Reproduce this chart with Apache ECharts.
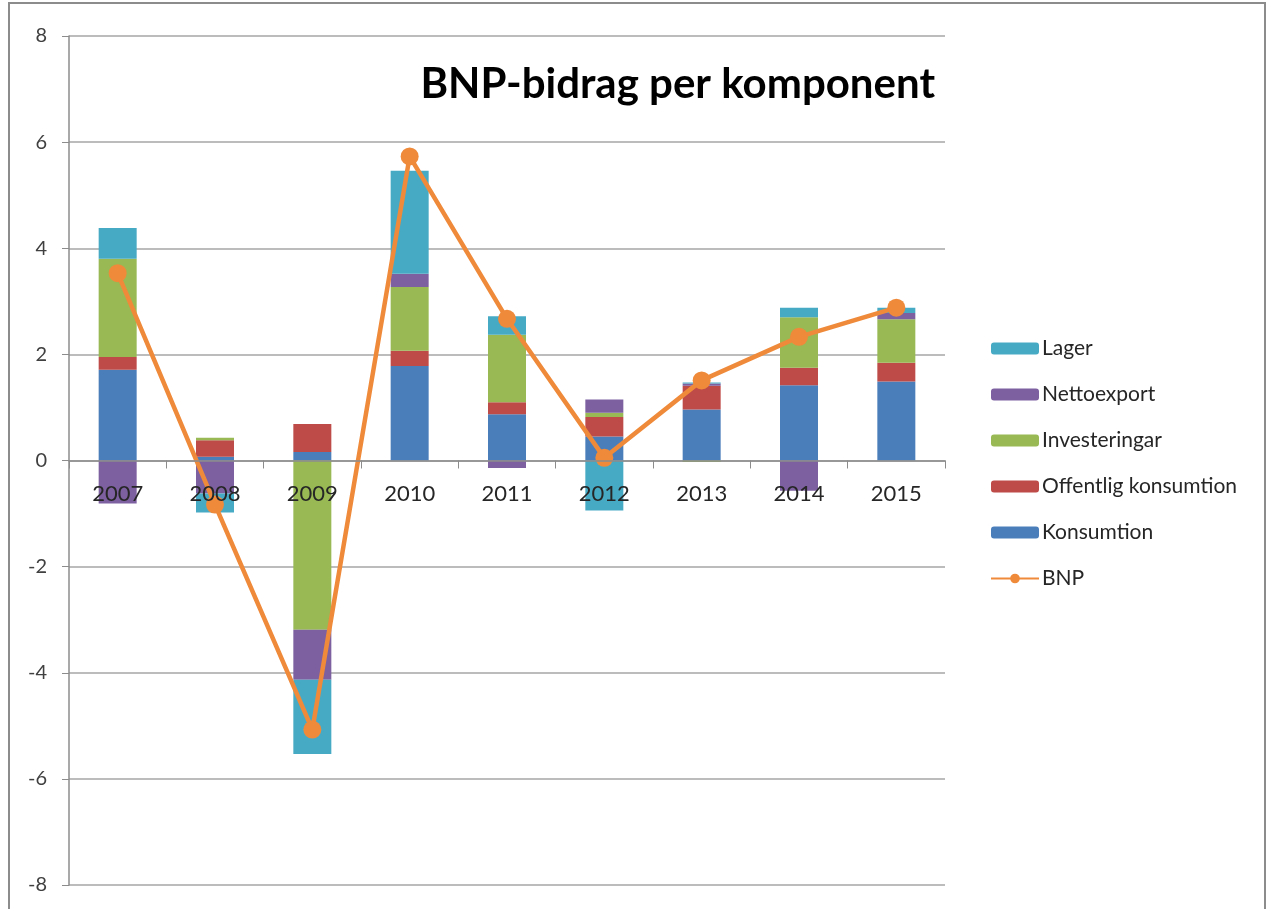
<!DOCTYPE html>
<html>
<head>
<meta charset="utf-8">
<script src="https://cdn.jsdelivr.net/npm/echarts@6/dist/echarts.min.js"></script>
<style>
  body { margin: 0; background: #fff; }
  #frame {
    position: absolute; left: 8px; top: 2px; width: 1258px; height: 910px;
    border: 2px solid #8c8c8c; box-sizing: border-box;
  }
  #chart { position: absolute; left: 0; top: 0; width: 1272px; height: 909px; }
</style>
</head>
<body>
<div id="frame"></div>
<div id="chart"></div>
<script>
// Years on the x axis
const years = ["2007", "2008", "2009", "2010", "2011", "2012", "2013", "2014", "2015"];

// Contributions per component (percentage points)
const konsumtion = [1.71, 0.07, 0.16, 1.78, 0.87, 0.45, 0.96, 1.42, 1.49];
const offentligKonsumtion = [0.24, 0.31, 0.53, 0.29, 0.23, 0.37, 0.45, 0.33, 0.35];
const investeringar = [1.85, 0.05, -3.19, 1.20, 1.27, 0.08, -0.03, 0.95, 0.82];
const nettoexport = [-0.81, -0.62, -0.94, 0.25, -0.14, 0.25, 0.04, -0.57, 0.12];
const lager = [0.58, -0.36, -1.40, 1.94, 0.35, -0.94, 0.02, 0.18, 0.10];
const bnp = [3.53, -0.83, -5.07, 5.73, 2.67, 0.05, 1.51, 2.33, 2.88];

// y axis ticks
const yMin = -8, yMax = 8, yStep = 2;

const colors = {
  konsumtion: "#4a7ebb",
  offentlig: "#be4b48",
  investeringar: "#98b954",
  nettoexport: "#7d60a0",
  lager: "#46aac5",
  bnp: "#ef8a3a",
};

const gridTop = 36, gridBottom = 24, chartHeight = 909;

var chartDom = document.getElementById("chart");
var myChart = echarts.init(chartDom);

// distance from the bottom of the grid up to the zero line
var plotHeight = chartHeight - gridTop - gridBottom;
var zeroOffset = plotHeight * (0 - yMin) / (yMax - yMin);

function barSeries(name, data, color) {
  return {
    name: name,
    type: "bar",
    stack: "bidrag",
    barWidth: 38,
    data: data,
    itemStyle: { color: color },
    z: 2,
  };
}

var option = {
  animation: false,
  title: {
    text: "BNP-bidrag per komponent",
    right: 332,
    top: 58,
    textStyle: {
      fontFamily: "Lato",
      fontWeight: "bold",
      fontSize: 42,
      color: "#000",
    },
  },
  legend: {
    orient: "vertical",
    left: 985,
    top: 333,
    itemWidth: 48,
    itemHeight: 12,
    itemGap: 25,
    data: ["Lager", "Nettoexport", "Investeringar", "Offentlig konsumtion", "Konsumtion", "BNP"],
    textStyle: { fontFamily: "Lato", fontSize: 21, color: "#262626", padding: [0, 0, 0, -2] },
  },
  grid: { left: 69, right: 327, top: gridTop, bottom: gridBottom, containLabel: false },
  xAxis: {
    type: "category",
    data: years,
    offset: -zeroOffset,
    axisLine: { onZero: false, lineStyle: { color: "#8c8c8c", width: 1.5 } },
    axisTick: { show: true, length: 8, inside: false, lineStyle: { color: "#8c8c8c" } },
    axisLabel: { margin: 22, fontFamily: "Lato", fontSize: 22, color: "#262626" },
    z: 10,
  },
  yAxis: {
    type: "value",
    min: yMin,
    max: yMax,
    interval: yStep,
    axisLine: { show: true, lineStyle: { color: "#8c8c8c", width: 1.5 } },
    axisTick: { show: true, length: 7, lineStyle: { color: "#8c8c8c" } },
    axisLabel: { margin: 22, fontFamily: "Lato", fontSize: 20, color: "#404040" },
    splitLine: { lineStyle: { color: "#a6a6a6", width: 1.5 } },
  },
  series: [
    barSeries("Konsumtion", konsumtion, colors.konsumtion),
    barSeries("Offentlig konsumtion", offentligKonsumtion, colors.offentlig),
    barSeries("Investeringar", investeringar, colors.investeringar),
    barSeries("Nettoexport", nettoexport, colors.nettoexport),
    barSeries("Lager", lager, colors.lager),
    {
      name: "BNP",
      type: "line",
      data: bnp,
      symbol: "circle",
      symbolSize: 18,
      lineStyle: { color: colors.bnp, width: 4.5 },
      itemStyle: { color: colors.bnp },
      z: 5,
    },
  ],
};
myChart.setOption(option);
</script>
</body>
</html>
